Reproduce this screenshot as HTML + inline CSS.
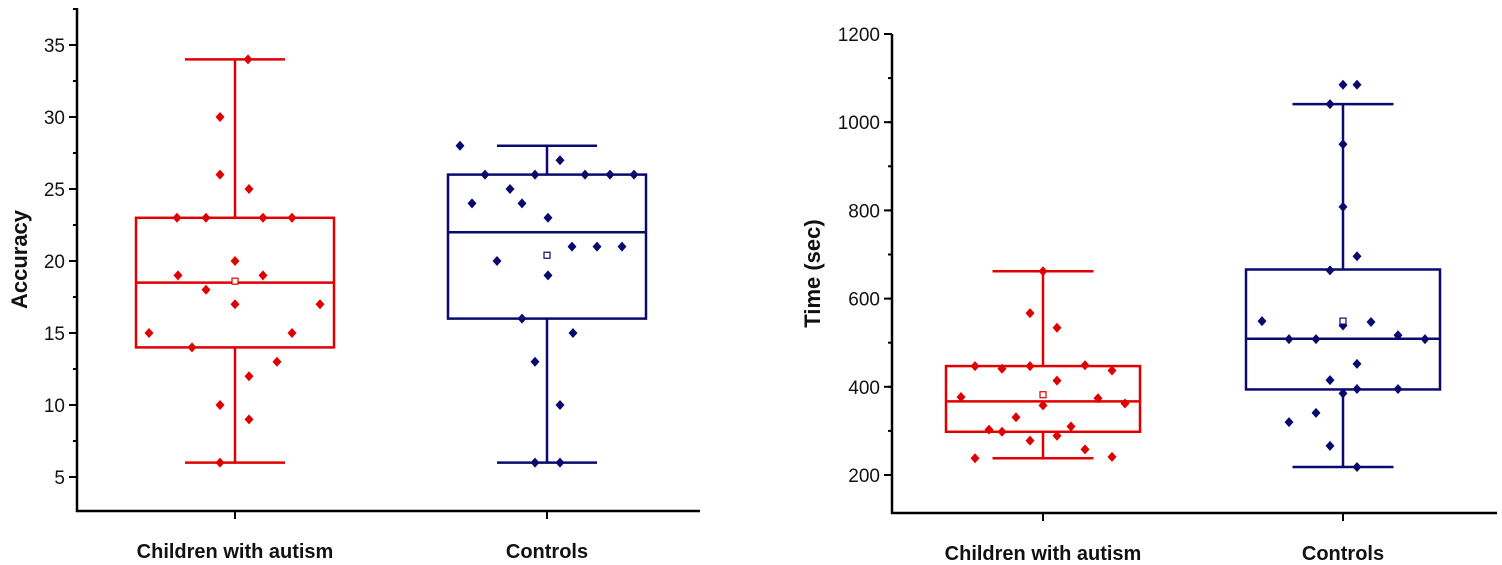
<!DOCTYPE html>
<html><head><meta charset="utf-8"><style>
body{margin:0;background:#fff}
svg{display:block;font-family:"Liberation Sans",sans-serif}
</style></head><body>
<svg id="c" width="1502" height="565"></svg>
<script>
const categories=["Children with autism","Controls"];
// Accuracy panel
const accAutX=[248,220,220,249,177,206,263,292,178,263,235,206,235,320,149,292,192,277,249,220,249,220];
const accAutV=[34,30,26,25,23,23,23,23,19,19,20,18,17,17,15,15,14,13,12,10,9,6];
const accConX=[460,560,485,535,585,610,634,472,522,510,548,497,572,597,622,548,522,573,535,560,535,560];
const accConV=[28,27,26,26,26,26,26,24,24,25,23,20,21,21,21,19,16,15,13,10,6,6];
const accBoxes=[[6,14,18.5,23,34,18.6],[6,16,22,26,28,20.4]]; // min,q1,med,q3,max,mean
const accTicks=[5,10,15,20,25,30,35];
// Time panel
const timAutX=[1043,1030,1057,975,1002,1030,1085,1112,1057,961,1098,1125,1043,1016,989,1002,1071,1030,1057,1085,975,1112];
const timAutV=[662,567,534,447,441,447,449,437,414,377,374,362,358,331,303,298,310,278,289,258,238,241];
const timConX=[1343,1357,1330,1343,1343,1357,1330,1262,1289,1316,1343,1371,1398,1425,1357,1330,1357,1398,1343,1289,1316,1330,1357];
const timConV=[1085,1085,1041,950,808,696,664,549,508,508,539,547,517,508,452,415,395,395,385,320,341,266,218];
const timBoxes=[[238,298,367,447,662,382],[218,394,509,666,1041,549]];
const timTicks=[200,400,600,800,1000,1200];

const NS="http://www.w3.org/2000/svg";
const svg=document.getElementById('c');
function mk(t,a,p){const e=document.createElementNS(NS,t);for(const k in a)e.setAttribute(k,a[k]);(p||svg).appendChild(e);return e;}
const colors=["#e00000","#0a0a6e"];

function panel(o){
  const g=mk('g',{});
  
  
  const y=v=>o.y0-(v-o.v0)*o.k;
  const ax=mk('line',{x1:o.ax,y1:o.top,x2:o.ax,y2:o.base+1,stroke:'#000','stroke-width':2.5},g);
  
  const xa=mk('line',{x1:o.ax-1,y1:o.base,x2:o.right,y2:o.base,stroke:'#000','stroke-width':2.5},g);
  
  for(let v=o.minorStart;y(v)>o.top;v+=o.minorStep){
    if(y(v)>o.base-2) continue;
    mk('line',{x1:o.ax-4,y1:y(v),x2:o.ax,y2:y(v),stroke:'#000','stroke-width':2},g);
  }
  o.ticks.forEach(v=>{
    mk('line',{x1:o.ax-8,y1:y(v),x2:o.ax,y2:y(v),stroke:'#000','stroke-width':2},g);
    const t=mk('text',{x:o.ax-12,y:y(v)+7,'text-anchor':'end','font-size':19,fill:'#111'},g);
    t.textContent=v;
    
  });
  const tt=mk('text',{transform:`translate(${o.titleX},${(o.top+o.base)/2}) rotate(-90)`,'text-anchor':'middle','font-size':22,'font-weight':'bold',fill:'#111'},g);
  tt.textContent=o.title;
  o.cx.forEach((cx,i)=>{
    mk('line',{x1:cx,y1:o.base,x2:cx,y2:o.base+8,stroke:'#000','stroke-width':2},g);
    const l=mk('text',{x:cx,y:o.labY,'text-anchor':'middle','font-size':20,'font-weight':'bold',fill:'#111'},g);
    l.textContent=categories[i];
    const b=o.boxes[i],c=colors[i],hw=o.bw/2,cw=o.cw/2;
    const bg=mk('g',{stroke:c,'stroke-width':2.5,fill:'none'},g);
    
    mk('line',{x1:cx,y1:y(b[0]),x2:cx,y2:y(b[1])},bg);
    mk('line',{x1:cx,y1:y(b[3]),x2:cx,y2:y(b[4])},bg);
    mk('line',{x1:cx-cw,y1:y(b[0]),x2:cx+cw,y2:y(b[0])},bg);
    mk('line',{x1:cx-cw,y1:y(b[4]),x2:cx+cw,y2:y(b[4])},bg);
    mk('rect',{x:cx-hw,y:y(b[3]),width:o.bw,height:y(b[1])-y(b[3])},bg);
    mk('line',{x1:cx-hw,y1:y(b[2]),x2:cx+hw,y2:y(b[2])},bg);
    const xs=o.px[i],vs=o.pv[i];
    xs.forEach((px,j)=>{
      const yy=y(vs[j]);
      const d=mk('polygon',{points:`${px},${yy-5} ${px+4.5},${yy} ${px},${yy+5} ${px-4.5},${yy}`,fill:c},g);
      
    });
    const m=mk('rect',{x:cx-3,y:y(b[5])-3,width:6,height:6,fill:'#fff',stroke:c,'stroke-width':1.2},g);
    
  });
}
panel({name:'accuracy-panel',ax:77,top:8,base:511,right:700,y0:477,v0:5,k:14.4,minorStart:2.5,minorStep:2.5,ticks:accTicks,
  title:'Accuracy',titleX:27,cx:[235,547],labY:558,boxes:accBoxes,bw:198,cw:100,px:[accAutX,accConX],pv:[accAutV,accConV]});
panel({name:'time-panel',ax:892,top:34,base:513,right:1497,y0:475,v0:200,k:0.441,minorStart:100,minorStep:100,ticks:timTicks,
  title:'Time (sec)',titleX:820,cx:[1043,1343],labY:560,boxes:timBoxes,bw:194,cw:101,px:[timAutX,timConX],pv:[timAutV,timConV]});
</script>
</body></html>
